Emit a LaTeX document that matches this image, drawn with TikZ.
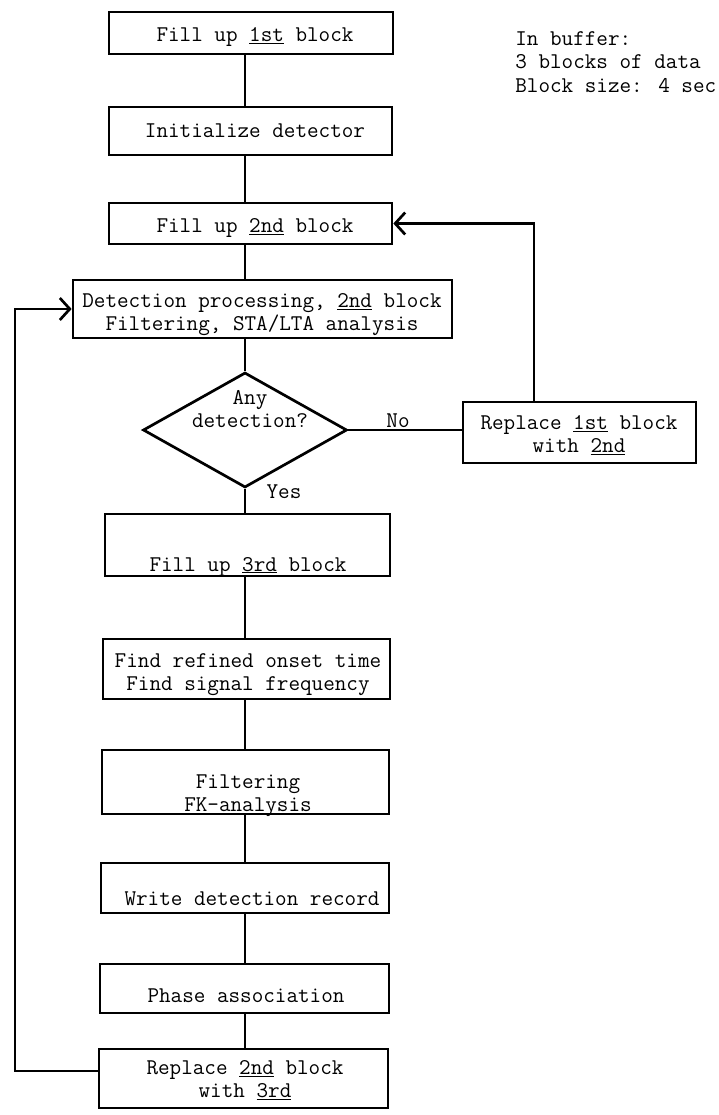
\documentclass[tikz,border=0pt]{standalone}
\usepackage{fontspec}
\usetikzlibrary{shapes.geometric,arrows.meta}
\begin{document}
\begin{tikzpicture}[x=1pt,y=-1pt, line width=2.7pt,
  box/.style={draw, rectangle, inner sep=0pt, line join=miter},
  dia/.style={draw, diamond, inner sep=0pt},
  txt/.style={font=\fontsize{22.5}{23.5}\selectfont\ttfamily\addfontfeature{FakeBold=0.6}, inner sep=0pt, align=center},
  arr/.style={-{Straight Barb[length=10pt,width=22pt]}}]
\useasboundingbox (0,0) rectangle (718,1115);
\coordinate (spine) at (245,0);
\coordinate (rloop) at (534,0);
\coordinate (lloop) at (15,0);

% boxes
\node[box, minimum width=284pt, minimum height=42pt] (b1) at (251,33) {};
\node[box, minimum width=283pt, minimum height=48pt] (b2) at (250.5,131) {};
\node[box, minimum width=283pt, minimum height=41pt] (b3) at (250.5,223.5) {};
\node[box, minimum width=379pt, minimum height=58pt] (b4) at (262.5,309) {};
\node[dia, minimum width=204pt, minimum height=115pt] (d) at (245,430) {};
\node[box, minimum width=233pt, minimum height=61pt] (rb) at (579.5,432.5) {};
\node[box, minimum width=285pt, minimum height=62pt] (b5) at (247.5,545) {};
\node[box, minimum width=287pt, minimum height=60pt] (b6) at (246.5,669) {};
\node[box, minimum width=287pt, minimum height=64pt] (b7) at (245.5,782) {};
\node[box, minimum width=288pt, minimum height=50pt] (b8) at (245,888) {};
\node[box, minimum width=289pt, minimum height=49pt] (b9) at (244.5,988.5) {};
\node[box, minimum width=289pt, minimum height=59pt] (b10) at (243.5,1078.5) {};

% texts
\node[txt, anchor=base] (t1) at (255,42) {Fill up \underline{1st} block};
\node[txt, anchor=base] (t2) at (255,138) {Initialize detector};
\node[txt, anchor=base] (t3) at (255,233) {Fill up \underline{2nd} block};
\node[txt, anchor=north] (t4) at (262,292) {Detection processing, \underline{2nd} block\\Filtering, STA/LTA analysis};
\node[txt, anchor=north] (td) at (250,389) {Any\\detection?};
\node[txt, anchor=base] (tno) at (398,427) {No};
\node[txt, anchor=base] (tyes) at (284,498) {Yes};
\node[txt, anchor=north] (trb) at (579,414) {Replace \underline{1st} block\\with \underline{2nd}};
\node[txt, anchor=base] (t5) at (248,571) {Fill up \underline{3rd} block};
\node[txt, anchor=north] (t6) at (248,652) {Find refined onset time\\Find signal frequency};
\node[txt, anchor=north] (t7) at (248,773) {Filtering\\FK-analysis};
\node[txt, anchor=base] (t8) at (252,905) {Write detection record};
\node[txt, anchor=base] (t9) at (246,1002) {Phase association};
\node[txt, anchor=north] (t10) at (245,1059) {Replace \underline{2nd} block\\with \underline{3rd}};
\node[txt, anchor=north west, align=left] (buf) at (514,30) {In buffer:\\3 blocks of data\\Block size: 4 sec};

% connectors
\draw (b1.south -| spine) -- (b2.north -| spine);
\draw (b2.south -| spine) -- (b3.north -| spine);
\draw (b3.south -| spine) -- (b4.north -| spine);
\draw (b4.south -| spine) -- (d.north);
\draw (d.south) -- (b5.north -| spine);
\draw (b5.south -| spine) -- (b6.north -| spine);
\draw (b6.south -| spine) -- (b7.north -| spine);
\draw (b7.south -| spine) -- (b8.north -| spine);
\draw (b8.south -| spine) -- (b9.north -| spine);
\draw (b9.south -| spine) -- (b10.north -| spine);
\draw (d.east) -- (d.east -| rb.west);
\draw[arr] (rb.north -| rloop) -- (rloop |- b3.east) -- (b3.east);
\coordinate (lstart) at ([yshift=7.5pt]b10.west);
\draw[arr] (lstart) -- (lloop |- lstart) -- (lloop |- b4.west) -- (b4.west);
\end{tikzpicture}
\end{document}
